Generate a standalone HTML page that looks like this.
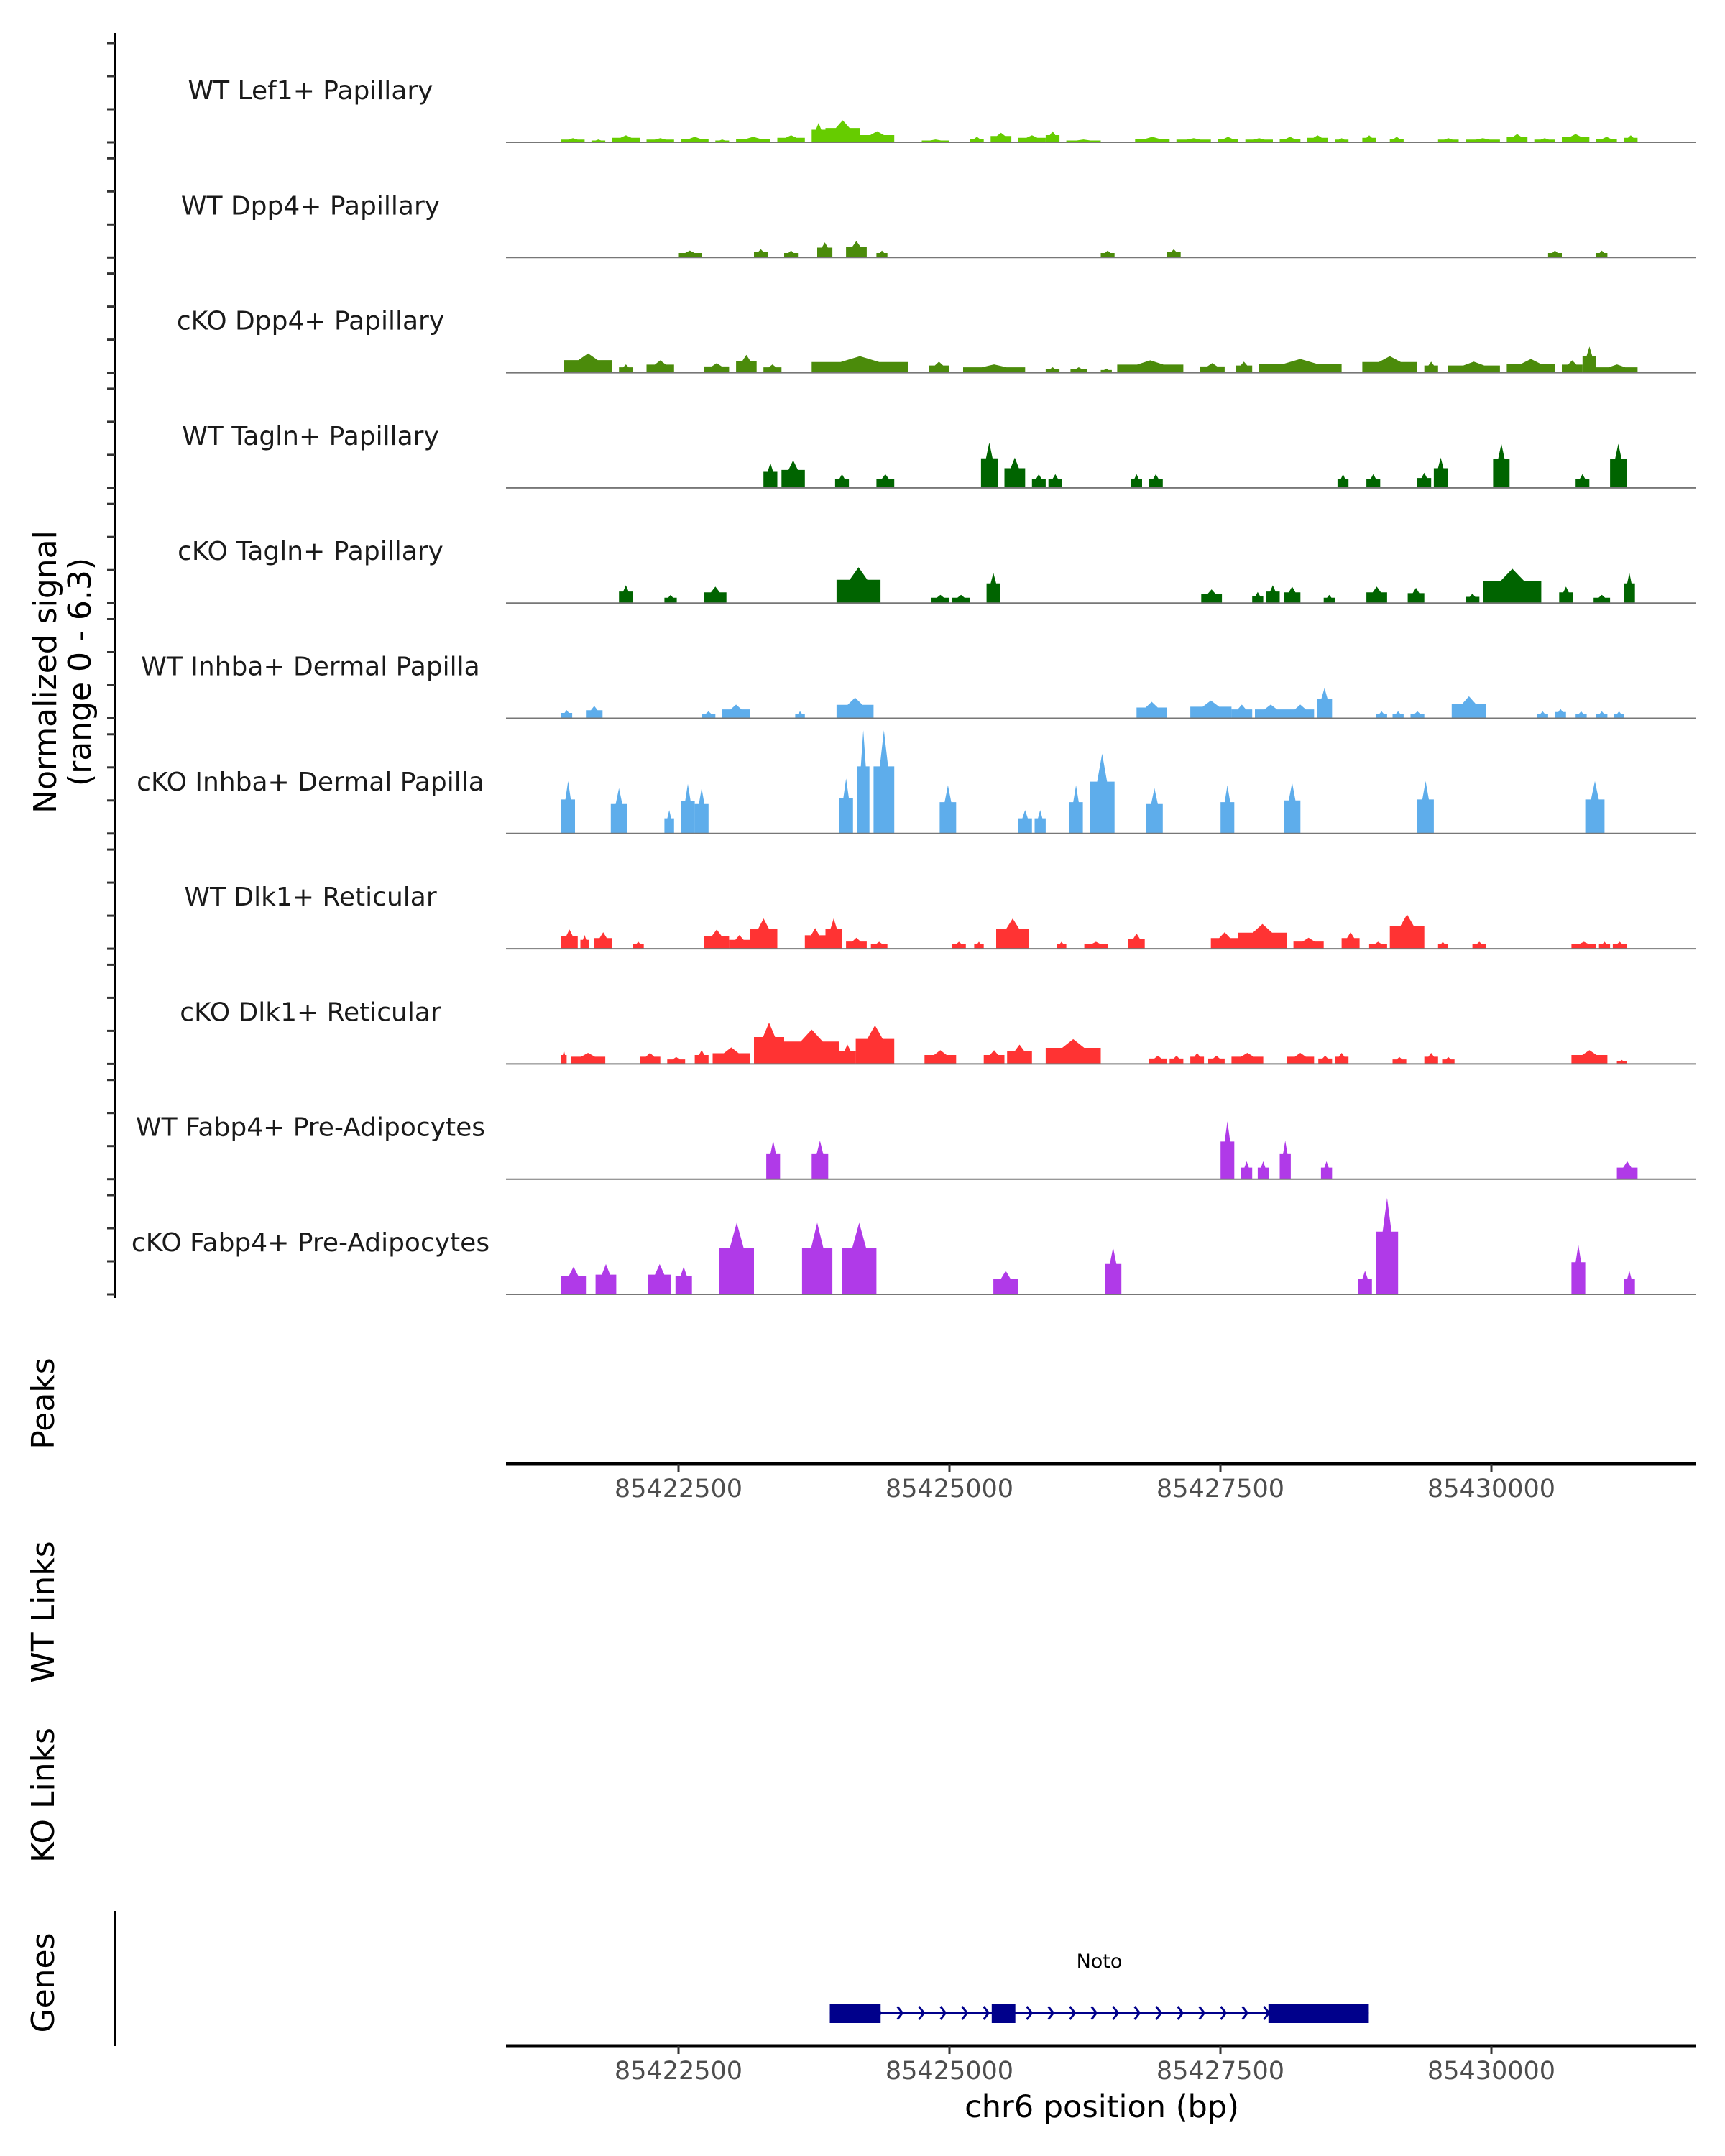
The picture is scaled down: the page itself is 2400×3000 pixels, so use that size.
<!DOCTYPE html>
<html><head><meta charset="utf-8"><style>
html,body{margin:0;padding:0;background:#fff}
svg{display:block}
text{font-family:"DejaVu Sans","Liberation Sans",sans-serif}
</style></head><body>
<svg id="chart" xmlns="http://www.w3.org/2000/svg" width="2400" height="3000" viewBox="0 0 2400 3000">
<rect width="2400" height="3000" fill="#fff"/>
<g id="tracks"></g>
<g id="axes"></g>
</svg>
<script>
// Genomic positions are offsets from chr6:85420000
const CHR_BASE = 85420000;
const xTicks = [85422500, 85425000, 85427500, 85430000];
const trackNames = ["WT Lef1+ Papillary","WT Dpp4+ Papillary","cKO Dpp4+ Papillary","WT Tagln+ Papillary","cKO Tagln+ Papillary","WT Inhba+ Dermal Papilla","cKO Inhba+ Dermal Papilla","WT Dlk1+ Reticular","cKO Dlk1+ Reticular","WT Fabp4+ Pre-Adipocytes","cKO Fabp4+ Pre-Adipocytes"];
const trackColors = ["#66cc00","#4b8b0b","#4b8b0b","#006400","#006400","#5eadeb","#5eadeb","#ff3333","#ff3333","#b03ae8","#b03ae8"];
const yTickValues = [0,2,4,6];

const lef1Starts=[1418,1697,1888,2205,2523,2840,3031,3412,3729,3856,4174,4745,5190,5380,5634,5888,6078,6713,7094,7475,7730,8047,8301,8555,8809,9063,9508,9762,10142,10396,10650,10968,11222];
const lef1Ends=[1634,1824,2142,2459,2777,2967,3348,3666,3856,4174,4491,4999,5316,5571,5888,6015,6396,7031,7412,7666,7984,8238,8492,8682,8936,9190,9698,10079,10333,10587,10904,11158,11349];
const lef1Values=[0.25,0.17,0.42,0.25,0.33,0.17,0.33,0.42,1.17,1.33,0.67,0.17,0.33,0.58,0.42,0.67,0.17,0.33,0.25,0.33,0.25,0.33,0.42,0.25,0.42,0.33,0.25,0.25,0.5,0.25,0.5,0.33,0.42];

const wtDpp4Starts=[2497,3196,3475,3780,4046,4326,6396,7006,10523,10968];
const wtDpp4Ends=[2713,3323,3602,3920,4237,4428,6523,7133,10650,11070];
const wtDpp4Values=[0.42,0.5,0.42,0.92,1.0,0.42,0.42,0.5,0.42,0.42];

const koDpp4Starts=[1443,1951,2205,2738,3031,3284,3729,4808,5126,5888,6117,6396,6548,7310,7641,7856,8809,9381,9596,10142,10650,10841,10968];
const koDpp4Ends=[1888,2078,2459,2967,3221,3450,4618,4999,5698,6015,6269,6498,7158,7539,7793,8618,9317,9508,10079,10587,10841,10968,11349];
const koDpp4Values=[1.17,0.5,0.75,0.58,1.08,0.5,1.0,0.67,0.5,0.33,0.33,0.25,0.75,0.58,0.67,0.83,1.0,0.67,0.67,0.83,0.75,1.58,0.5];

const wtTaglnStarts=[3284,3450,3945,4326,5291,5507,5761,5913,6675,6840,8580,8847,9317,9469,10016,10777,11095];
const wtTaglnEnds=[3412,3666,4072,4491,5444,5698,5888,6040,6777,6968,8682,8974,9444,9596,10168,10904,11247];
const wtTaglnValues=[1.5,1.67,0.83,0.83,2.75,1.83,0.83,0.83,0.83,0.83,0.83,0.83,0.92,1.83,2.67,0.83,2.67];

const koTaglnStarts=[1951,2370,2738,3958,4834,5024,5342,7323,7793,7920,8085,8453,8847,9228,9762,9927,10625,10943,11222];
const koTaglnEnds=[2078,2484,2942,4364,4999,5190,5469,7514,7895,8047,8238,8555,9038,9381,9889,10460,10752,11095,11324];
const koTaglnValues=[1.08,0.5,1.0,2.17,0.5,0.5,1.83,0.83,0.67,1.08,1.0,0.5,1.0,0.92,0.58,2.08,1.0,0.5,1.83];

const wtInhbaStarts=[1418,1646,2713,2904,3577,3958,6726,7222,7602,7818,8110,8390,8936,9088,9254,9634,10422,10587,10777,10968,11133];
const wtInhbaEnds=[1519,1799,2840,3158,3666,4300,7006,7602,7793,8110,8364,8530,9038,9190,9381,9952,10523,10688,10879,11070,11222];
const wtInhbaValues=[0.5,0.75,0.42,0.83,0.42,1.25,1.0,1.08,0.83,0.83,0.83,1.83,0.42,0.42,0.42,1.33,0.42,0.58,0.42,0.42,0.42];

const koInhbaStarts=[1418,1875,2370,2523,2650,3983,4148,4300,4910,5634,5786,6104,6294,6815,7501,8085,9317,10866];
const koInhbaEnds=[1545,2027,2459,2650,2777,4110,4262,4491,5062,5761,5888,6231,6523,6968,7628,8238,9469,11044];
const koInhbaValues=[3.17,2.75,1.42,3.0,2.75,3.33,6.25,6.25,2.92,1.42,1.42,2.92,4.83,2.75,2.92,3.08,3.17,3.17];

const wtDlk1Starts=[1418,1595,1722,2078,2738,2967,3158,3666,3856,4046,4275,5024,5228,5431,5990,6244,6650,7412,7666,8174,8618,8872,9063,9508,9825,10739,10993,11120];
const wtDlk1Ends=[1570,1672,1888,2180,2967,3158,3412,3856,4008,4237,4428,5151,5316,5736,6078,6460,6802,7666,8110,8453,8784,9038,9381,9596,9952,10968,11095,11247];
const wtDlk1Values=[1.17,0.83,1.0,0.42,1.17,0.83,1.83,1.25,1.83,0.67,0.42,0.42,0.42,1.83,0.42,0.42,0.92,1.0,1.5,0.67,1.0,0.42,2.08,0.42,0.42,0.42,0.42,0.42];

const koDlk1Starts=[1418,1506,2142,2396,2650,2815,3196,3475,3983,4135,4770,5316,5532,5888,6840,7031,7222,7387,7602,8110,8403,8555,9088,9381,9546,10739,11158];
const koDlk1Ends=[1468,1824,2332,2561,2777,3158,3475,3983,4135,4491,5062,5507,5761,6396,7006,7158,7348,7539,7895,8364,8530,8682,9215,9508,9660,11070,11247];
const koDlk1Values=[0.83,0.67,0.67,0.42,0.83,1.0,2.5,2.08,1.17,2.33,0.83,0.83,1.17,1.5,0.5,0.5,0.67,0.5,0.67,0.67,0.5,0.67,0.42,0.67,0.42,0.83,0.25];

const wtFabp4Starts=[3310,3729,7501,7691,7844,8047,8428,11158];
const wtFabp4Ends=[3437,3881,7628,7793,7945,8149,8530,11349];
const wtFabp4Values=[2.33,2.33,3.5,1.08,1.08,2.33,1.08,1.08];

const koFabp4Starts=[1418,1735,2218,2472,2878,3640,4008,5405,6434,8771,8936,10739,11222];
const koFabp4Ends=[1646,1926,2434,2624,3196,3920,4326,5634,6586,8898,9139,10866,11324];
const koFabp4Values=[1.67,1.83,1.83,1.67,4.33,4.33,4.33,1.42,2.83,1.42,5.83,3.0,1.42];

const geneName = "Noto";
const geneStart = 3896, geneEnd = 8869;
const exonStarts = [3896, 5390, 7943];
const exonEnds = [4365, 5608, 8869];

const trackStarts=[lef1Starts,wtDpp4Starts,koDpp4Starts,wtTaglnStarts,koTaglnStarts,wtInhbaStarts,koInhbaStarts,wtDlk1Starts,koDlk1Starts,wtFabp4Starts,koFabp4Starts];
const trackEnds=[lef1Ends,wtDpp4Ends,koDpp4Ends,wtTaglnEnds,koTaglnEnds,wtInhbaEnds,koInhbaEnds,wtDlk1Ends,koDlk1Ends,wtFabp4Ends,koFabp4Ends];
const trackValues=[lef1Values,wtDpp4Values,koDpp4Values,wtTaglnValues,koTaglnValues,wtInhbaValues,koInhbaValues,wtDlk1Values,koDlk1Values,wtFabp4Values,koFabp4Values];

const NS="http://www.w3.org/2000/svg";
const X0=704, X1=2360;
function xScale(off){ return 1321 + (off-5000)*0.1508; }
function baseY(i){ return 198 + i*160.3; }
function yScale(v,i){ return baseY(i) - v*23; }
function mk(tag, attrs, parent){ const e=document.createElementNS(NS,tag); for(const k in attrs) e.setAttribute(k,attrs[k]); parent.appendChild(e); return e; }

const tracksG=document.getElementById('tracks');
const axesG=document.getElementById('axes');

let ax=mk('line',{x1:160,x2:160,y1:46,y2:1806,stroke:'#000','stroke-width':3},axesG);



for(let i=0;i<trackNames.length;i++){
  const g=mk('g',{},tracksG);
  
  
  const by=baseY(i);
  for(const tv of yTickValues){
    const t=mk('line',{x1:149,x2:160,y1:yScale(tv,i),y2:yScale(tv,i),stroke:'#333','stroke-width':3},axesG);
    
    
  }
  const lbl=mk('text',{x:432,y:by-70,'text-anchor':'middle','font-size':36,fill:'#1a1a1a','dominant-baseline':'middle'},g);
  lbl.textContent=trackNames[i];
  
  
  const s=trackStarts[i], e=trackEnds[i], v=trackValues[i];
  for(let k=0;k<s.length;k++){
    const xs=xScale(s[k]), xe=xScale(e[k]), w=xe-xs, m=(xs+xe)/2;
    const yT=yScale(v[k],i), yM=yScale(v[k]*0.65,i);
    const pts=[[xs,by],[xs,yM],[m-w*0.2,yM],[m,yT],[m+w*0.2,yM],[xe,yM],[xe,by]].map(p=>p[0].toFixed(1)+','+p[1].toFixed(1)).join(' ');
    const p=mk('polygon',{points:pts,fill:trackColors[i]},g);
    
    
  }
  const bl=mk('line',{x1:X0,x2:X1,y1:by,y2:by,stroke:'#777','stroke-width':2},g);
  
  
}

function xAxis(y, name, labelY){
  const g=mk('g',{},axesG);
  
  
  mk('line',{x1:X0,x2:X1,y1:y,y2:y,stroke:'#000','stroke-width':5},g);
  for(const t of xTicks){
    const x=xScale(t-CHR_BASE);
    mk('line',{x1:x,x2:x,y1:y,y2:y+11,stroke:'#333','stroke-width':3},g);
    const tx=mk('text',{x:x,y:labelY,'text-anchor':'middle','font-size':35,fill:'#4d4d4d'},g);
    tx.textContent=String(t);
    
    
  }
}
xAxis(2037,'peaks-x-axis',2083);
xAxis(2847,'genes-x-axis',2893);

const gg=mk('g',{},tracksG);


const gy=2801;
mk('line',{x1:xScale(geneStart),x2:xScale(geneEnd),y1:gy,y2:gy,stroke:'#00008b','stroke-width':4},gg);
for(let x=xScale(geneStart)+4;x<xScale(geneEnd)-8;x+=30){
  mk('polyline',{points:`${x},${gy-9} ${x+7},${gy} ${x},${gy+9}`,fill:'none',stroke:'#00008b','stroke-width':3},gg);
}
for(let k=0;k<exonStarts.length;k++){
  const r=mk('rect',{x:xScale(exonStarts[k]),y:gy-13,width:xScale(exonEnds[k])-xScale(exonStarts[k]),height:27,fill:'#00008b'},gg);
  
  
}
const gl=mk('text',{x:(xScale(geneStart)+xScale(geneEnd))/2,y:2738,'text-anchor':'middle','font-size':27,fill:'#000'},gg);
gl.textContent=geneName;



const gax=mk('line',{x1:160,x2:160,y1:2659,y2:2847,stroke:'#000','stroke-width':3},axesG);



function vtitle(txt, x, y, name){
  const t=mk('text',{x:x,y:y,'text-anchor':'middle','font-size':44,fill:'#000',transform:`rotate(-90 ${x} ${y})`,'dominant-baseline':'middle'},axesG);
  t.textContent=txt;
  
  
}
vtitle('Normalized signal',66,935,'y-axis-title');
vtitle('(range 0 - 6.3)',114,935,'y-axis-subtitle');
vtitle('Peaks',63,1953,'peaks-title');
vtitle('WT Links',63,2243,'wt-links-title');
vtitle('KO Links',63,2498,'ko-links-title');
vtitle('Genes',63,2759,'genes-title');

const xt=mk('text',{x:1533,y:2946,'text-anchor':'middle','font-size':43,fill:'#000'},axesG);
xt.textContent='chr6 position (bp)';


</script>
</body></html>
